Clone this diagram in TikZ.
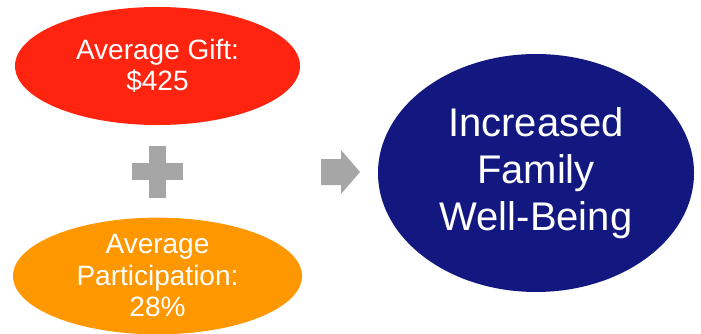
\documentclass[tikz,border=0pt]{standalone}
\usepackage{fontspec}
\setmainfont{Liberation Sans}
\usetikzlibrary{shapes.geometric}
\definecolor{giftred}{HTML}{FF2410}
\definecolor{partorange}{HTML}{FF9800}
\definecolor{wellblue}{HTML}{12187F}
\definecolor{symgray}{HTML}{A6A6A6}
\tikzset{
  oval/.style={ellipse, inner sep=0pt, text=white, align=center},
  smalltext/.style={font=\fontsize{28}{31.5}\selectfont},
  bigtext/.style={font=\fontsize{40}{47}\selectfont},
}
\begin{document}
\begin{tikzpicture}[x=1pt,y=-1pt]
\useasboundingbox (0,0) rectangle (701,334);
\node[oval, smalltext, fill=giftred, minimum width=285pt, minimum height=118pt] (gift) at (157.5,66) {Average Gift:\\\$425};
\node[oval, smalltext, fill=partorange, minimum width=289pt, minimum height=116pt] (part) at (157.5,276) {Average\\Participation:\\28\%};
\node[oval, bigtext, fill=wellblue, minimum width=316pt, minimum height=238pt] (well) at (536,173) {Increased\\Family\\Well-Being};
% plus sign
\fill[symgray] (149,146) rectangle (166,198);
\fill[symgray] (132,163) rectangle (183,180);
% arrow
\fill[symgray] (321,159) -- (341,159) -- (341,150) -- (360,172) -- (341,194) -- (341,185) -- (321,185) -- cycle;
\end{tikzpicture}
\end{document}
